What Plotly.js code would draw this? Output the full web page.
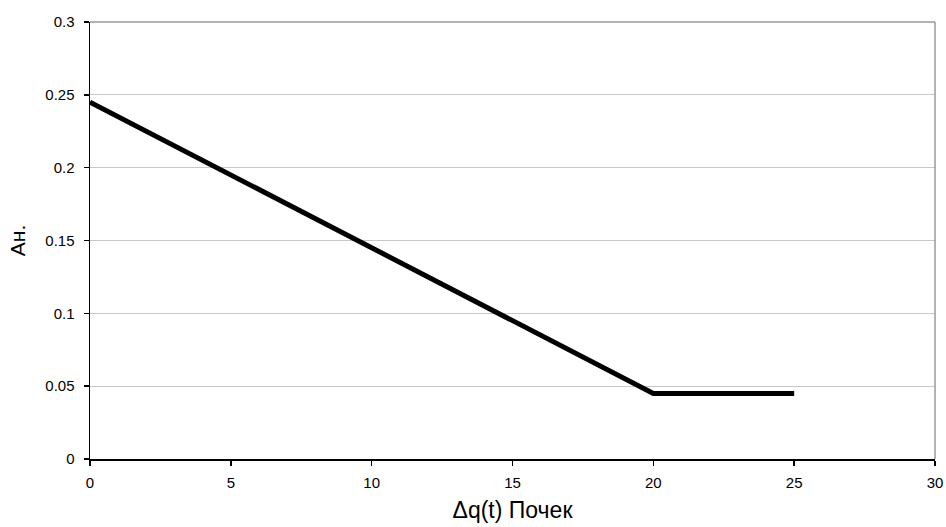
<!DOCTYPE html>
<html><head><meta charset="utf-8">
<script src="https://cdn.plot.ly/plotly-3.0.1.min.js"></script>
<style>html,body{margin:0;padding:0;background:#fff}#c{width:946px;height:527px}</style>
</head><body><div id="c"></div>
<script>
const xValues = [0, 20, 25];
const yValues = [0.245, 0.045, 0.045];
const xTicks = [0, 5, 10, 15, 20, 25, 30];
const yTicks = [0, 0.05, 0.1, 0.15, 0.2, 0.25, 0.3];
const yTickLabels = ['0', '0.05', '0.1', '0.15', '0.2', '0.25', '0.3'];

const trace = {x: xValues, y: yValues, type: 'scatter', mode: 'lines',
  line: {color: '#000', width: 5}, hoverinfo: 'skip'};
const layout = {
  width: 946, height: 527,
  margin: {l: 90, r: 11, t: 22, b: 68},
  paper_bgcolor: '#fff', plot_bgcolor: '#fff',
  font: {family: 'Liberation Sans, Arial, sans-serif', color: '#000', size: 15},
  showlegend: false,
  xaxis: {range: [0, 30], tickvals: xTicks, ticktext: xTicks.map(String),
    showgrid: false, zeroline: false, showline: true, linecolor: '#000', linewidth: 1.5,
    ticks: 'outside', ticklen: 5, tickcolor: '#000', tickwidth: 1.5,
    ticklabelstandoff: 4,
    tickfont: {size: 15},
    title: {text: 'Δq(t) Почек', font: {size: 23}, standoff: 12}},
  yaxis: {range: [0, 0.3], tickvals: yTicks, ticktext: yTickLabels,
    showgrid: true, gridcolor: '#c8c8c8', gridwidth: 1, zeroline: false,
    showline: true, linecolor: '#000', linewidth: 1.5,
    ticks: 'outside', ticklen: 5, tickcolor: '#000', tickwidth: 1.5,
    ticklabelstandoff: 6,
    tickfont: {size: 15},
    title: {text: 'Ан.', font: {size: 21}, standoff: 14}},
  shapes: [
    {type: 'line', xref: 'paper', yref: 'paper', x0: 0, x1: 1, y0: 1, y1: 1, line: {color: '#999', width: 1.5}},
    {type: 'line', xref: 'paper', yref: 'paper', x0: 1, x1: 1, y0: 0, y1: 1, line: {color: '#999', width: 1.5}}
  ]
};
Plotly.newPlot('c', [trace], layout, {staticPlot: true, displayModeBar: false});
</script></body></html>
